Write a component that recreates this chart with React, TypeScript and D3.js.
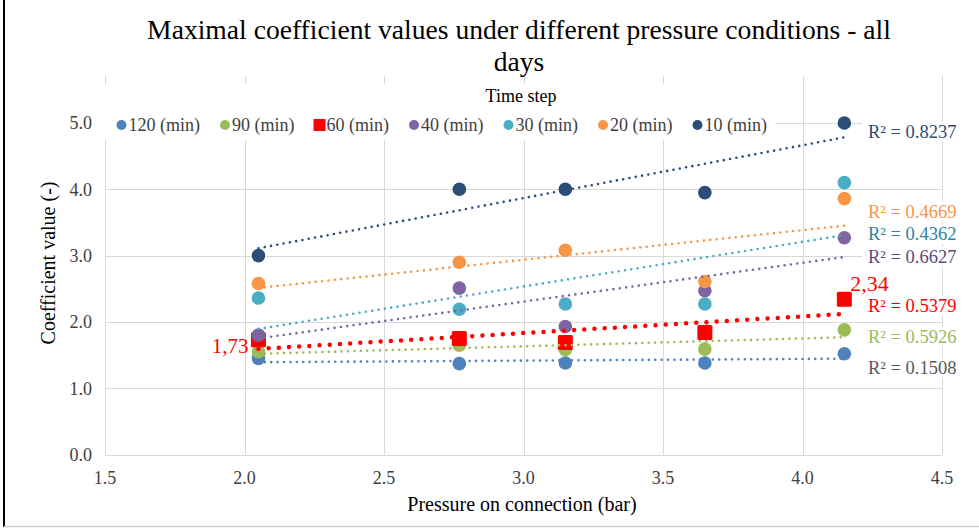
import React, { useEffect, useRef } from 'react';
import * as d3 from 'd3';

// Pressure on connection (bar) for each measurement
const pressures = [2.05, 2.77, 3.15, 3.65, 4.15];

// Maximal coefficient values per time step
const v120 = [1.45, 1.37, 1.38, 1.38, 1.52];
const v90 = [1.55, 1.65, 1.58, 1.59, 1.88];
const v60 = [1.73, 1.75, 1.69, 1.84, 2.34];
const v40 = [1.8, 2.51, 1.93, 2.47, 3.27];
const v30 = [2.36, 2.19, 2.27, 2.27, 4.1];
const v20 = [2.58, 2.9, 3.08, 2.61, 3.86];
const v10 = [3.0, 4.0, 4.0, 3.95, 5.0];

const seriesNames = ['120 (min)', '90 (min)', '60 (min)', '40 (min)', '30 (min)', '20 (min)', '10 (min)'];
const seriesValues = [v120, v90, v60, v40, v30, v20, v10];
const seriesColors = ['#4F81BD', '#9BBB59', '#FF0000', '#8064A2', '#4BACC6', '#F79646', '#2C4D75'];
const r2Colors = ['#595959', '#9BBB59', '#FF0000', '#604A7B', '#31859C', '#F79646', '#2C4D75'];
const r2Labels = ['R² = 0.1508', 'R² = 0.5926', 'R² = 0.5379', 'R² = 0.6627', 'R² = 0.4362', 'R² = 0.4669', 'R² = 0.8237'];
// vertical anchor of each R² label, in data units
const r2LabelY = [1.31, 1.78, 2.24, 2.98, 3.33, 3.66, 4.87];

const xTicks = [1.5, 2.0, 2.5, 3.0, 3.5, 4.0, 4.5];
const yTicks = [0, 1, 2, 3, 4, 5];

const W = 979;
const H = 530;
const FONT = '"Liberation Serif", "Times New Roman", serif';

function fit(xs: number[], ys: number[]) {
  const mx = d3.mean(xs) as number;
  const my = d3.mean(ys) as number;
  let sxy = 0;
  let sxx = 0;
  xs.forEach((x, i) => {
    sxy += (x - mx) * (ys[i] - my);
    sxx += (x - mx) * (x - mx);
  });
  const slope = sxy / sxx;
  return (x: number) => my + slope * (x - mx);
}

const App: React.FC = () => {
  const svgRef = useRef<SVGSVGElement>(null);

  useEffect(() => {
    if (!svgRef.current) return;
    const svg = d3.select(svgRef.current);
    svg.selectAll('*').remove();

    const x = d3.scaleLinear().domain([1.5, 4.5]).range([105, 942]);
    const y = d3.scaleLinear().domain([0, 5]).range([454.5, 123]);
    const plotTop = 76;

    svg.append('rect').attr('width', W).attr('height', H).attr('fill', '#fff');

    // frame
    svg.append('line').attr('x1', 4).attr('x2', 4).attr('y1', 0).attr('y2', 527)
      .attr('stroke', '#000').attr('stroke-width', 2);
    svg.append('line').attr('x1', 4).attr('x2', W).attr('y1', 526.5).attr('y2', 526.5)
      .attr('stroke', '#d0d0d0').attr('stroke-width', 1.5);

    // gridlines
    const grid = svg.append('g').attr('stroke', '#D9D9D9').attr('stroke-width', 1);
    grid.selectAll('.vg').data(xTicks).enter().append('line')
      .attr('x1', d => Math.round(x(d)) + 0.5).attr('x2', d => Math.round(x(d)) + 0.5)
      .attr('y1', plotTop).attr('y2', y(0));
    grid.selectAll('.hg').data(yTicks).enter().append('line')
      .attr('x1', x(1.5)).attr('x2', x(4.5))
      .attr('y1', d => Math.round(y(d)) + 0.5).attr('y2', d => Math.round(y(d)) + 0.5);

    // tick labels
    svg.append('g').selectAll('text').data(yTicks).enter().append('text')
      .attr('x', 92).attr('y', d => y(d)).attr('dy', '0.35em')
      .attr('text-anchor', 'end').attr('font-family', FONT).attr('font-size', 18)
      .attr('fill', '#404040').text(d => d.toFixed(1));
    svg.append('g').selectAll('text').data(xTicks).enter().append('text')
      .attr('x', d => x(d)).attr('y', 478).attr('dy', '0.35em')
      .attr('text-anchor', 'middle').attr('font-family', FONT).attr('font-size', 18)
      .attr('fill', '#404040').text(d => d.toFixed(1));

    // axis titles
    svg.append('text').attr('x', 522).attr('y', 504).attr('dy', '0.35em')
      .attr('text-anchor', 'middle').attr('font-family', FONT).attr('font-size', 20)
      .text('Pressure on connection (bar)');
    svg.append('text').attr('transform', 'translate(48,263) rotate(-90)').attr('dy', '0.35em')
      .attr('text-anchor', 'middle').attr('font-family', FONT).attr('font-size', 20)
      .text('Coefficient value (-)');

    // title
    const title = svg.append('text').attr('text-anchor', 'middle').attr('font-family', FONT)
      .attr('font-size', 27.6).attr('fill', '#000');
    title.append('tspan').attr('x', 519).attr('y', 39)
      .text('Maximal coefficient values under different pressure conditions - all');
    title.append('tspan').attr('x', 519).attr('y', 71).text('days');

    // points
    seriesValues.forEach((vals, si) => {
      const g = svg.append('g');
      if (si === 2) {
        g.selectAll('rect').data(vals).enter().append('rect')
          .attr('x', (d, i) => x(pressures[i]) - 7.5).attr('y', d => y(d) - 7.5)
          .attr('width', 15).attr('height', 15).attr('rx', 1.5)
          .attr('fill', seriesColors[si]);
      } else {
        g.selectAll('circle').data(vals).enter().append('circle')
          .attr('cx', (d, i) => x(pressures[i])).attr('cy', d => y(d)).attr('r', 6.8)
          .attr('fill', seriesColors[si]);
      }
    });

    // trend lines
    seriesValues.forEach((vals, si) => {
      const f = fit(pressures, vals);
      const x0 = pressures[0];
      const x1 = pressures[pressures.length - 1];
      const red = si === 2;
      svg.append('line')
        .attr('x1', x(x0)).attr('y1', y(f(x0))).attr('x2', x(x1)).attr('y2', y(f(x1)))
        .attr('stroke', seriesColors[si])
        .attr('stroke-width', red ? 4.5 : 2.6)
        .attr('stroke-linecap', 'round')
        .attr('stroke-dasharray', red ? '0 10.2' : '0 6.4');
    });

    // R² labels
    seriesValues.forEach((vals, si) => {
      const ly = y(r2LabelY[si]);
      svg.append('rect').attr('x', 862).attr('y', ly - 10).attr('width', 100).attr('height', 20)
        .attr('fill', '#fff');
      svg.append('text').attr('x', 868).attr('y', ly).attr('dy', '0.35em')
        .attr('font-family', FONT).attr('font-size', 18.5).attr('fill', r2Colors[si])
        .text(r2Labels[si]);
    });

    // value annotations for 60 min
    svg.append('text').attr('x', x(pressures[0]) - 10).attr('y', y(v60[0]) + 6).attr('dy', '0.35em')
      .attr('text-anchor', 'end').attr('font-family', FONT).attr('font-size', 21)
      .attr('fill', '#FF0000').text(v60[0].toFixed(2).replace('.', ','));
    svg.append('text').attr('x', x(pressures[4]) + 6).attr('y', y(v60[4]) - 16).attr('dy', '0.35em')
      .attr('font-family', FONT).attr('font-size', 22)
      .attr('fill', '#FF0000').text(v60[4].toFixed(2).replace('.', ','));

    // legend
    const lg = svg.append('g');
    lg.append('rect').attr('x', 100).attr('y', 84).attr('width', 675).attr('height', 56).attr('fill', '#fff');
    lg.append('text').attr('x', 521).attr('y', 96).attr('dy', '0.35em').attr('text-anchor', 'middle')
      .attr('font-family', FONT).attr('font-size', 18).text('Time step');
    let cx = 121.5;
    const ly = 125;
    seriesNames.forEach((name, si) => {
      if (si === 2) {
        lg.append('rect').attr('x', cx - 6).attr('y', ly - 6).attr('width', 12).attr('height', 12)
          .attr('fill', seriesColors[si]);
      } else {
        lg.append('circle').attr('cx', cx).attr('cy', ly).attr('r', 5).attr('fill', seriesColors[si]);
      }
      const t = lg.append('text').attr('x', cx + 7).attr('y', ly).attr('dy', '0.35em')
        .attr('font-family', FONT).attr('font-size', 18).attr('fill', '#404040').text(name);
      const w = (t.node() as SVGTextElement).getComputedTextLength();
      cx += 7 + w + 25;
    });
  }, []);

  return (
    <svg ref={svgRef} width={W} height={H} style={{ position: 'absolute', left: 0, top: 0 }} />
  );
};

export default App;
